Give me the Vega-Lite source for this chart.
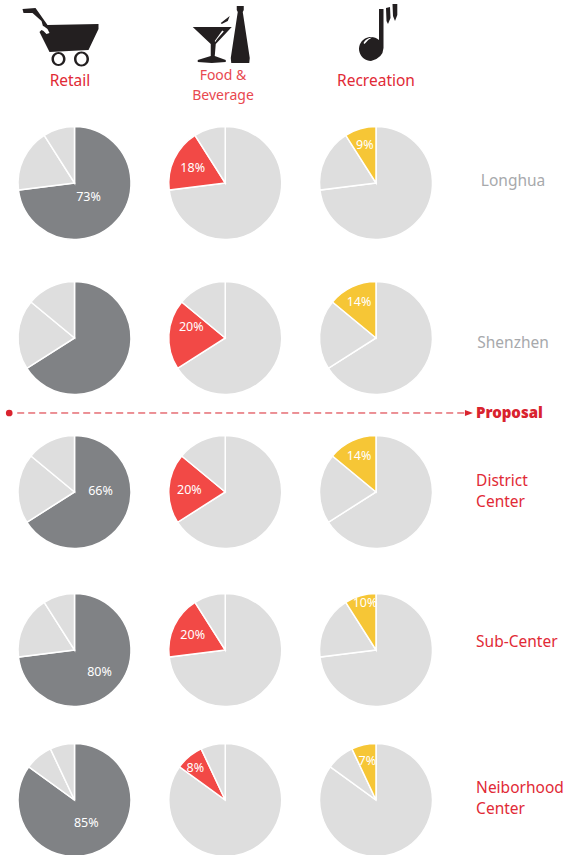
{
"$schema":"https://vega.github.io/schema/vega-lite/v6.json",
"width":572,"height":855,"padding":0,"autosize":{"type":"none"},
"background":"white",
"config":{"view":{"stroke":null},"font":"Noto Sans"},
"datasets":{
"slices":[
{"col":0,"row":0,"order":0,"share":73,"series":"Retail","label":"73%"},{"col":0,"row":0,"order":1,"share":18,"series":"Other"},{"col":0,"row":0,"order":2,"share":9,"series":"Other"},
{"col":1,"row":0,"order":0,"share":73,"series":"Other"},{"col":1,"row":0,"order":1,"share":18,"series":"Food","label":"18%"},{"col":1,"row":0,"order":2,"share":9,"series":"Other"},
{"col":2,"row":0,"order":0,"share":73,"series":"Other"},{"col":2,"row":0,"order":1,"share":18,"series":"Other"},{"col":2,"row":0,"order":2,"share":9,"series":"Recreation","label":"9%"},
{"col":0,"row":1,"order":0,"share":66,"series":"Retail"},{"col":0,"row":1,"order":1,"share":20,"series":"Other"},{"col":0,"row":1,"order":2,"share":14,"series":"Other"},
{"col":1,"row":1,"order":0,"share":66,"series":"Other"},{"col":1,"row":1,"order":1,"share":20,"series":"Food","label":"20%"},{"col":1,"row":1,"order":2,"share":14,"series":"Other"},
{"col":2,"row":1,"order":0,"share":66,"series":"Other"},{"col":2,"row":1,"order":1,"share":20,"series":"Other"},{"col":2,"row":1,"order":2,"share":14,"series":"Recreation","label":"14%"},
{"col":0,"row":2,"order":0,"share":66,"series":"Retail","label":"66%"},{"col":0,"row":2,"order":1,"share":20,"series":"Other"},{"col":0,"row":2,"order":2,"share":14,"series":"Other"},
{"col":1,"row":2,"order":0,"share":66,"series":"Other"},{"col":1,"row":2,"order":1,"share":20,"series":"Food","label":"20%"},{"col":1,"row":2,"order":2,"share":14,"series":"Other"},
{"col":2,"row":2,"order":0,"share":66,"series":"Other"},{"col":2,"row":2,"order":1,"share":20,"series":"Other"},{"col":2,"row":2,"order":2,"share":14,"series":"Recreation","label":"14%"},
{"col":0,"row":3,"order":0,"share":73,"series":"Retail","label":"80%"},{"col":0,"row":3,"order":1,"share":18,"series":"Other"},{"col":0,"row":3,"order":2,"share":9,"series":"Other"},
{"col":1,"row":3,"order":0,"share":73,"series":"Other"},{"col":1,"row":3,"order":1,"share":18,"series":"Food","label":"20%"},{"col":1,"row":3,"order":2,"share":9,"series":"Other"},
{"col":2,"row":3,"order":0,"share":73,"series":"Other"},{"col":2,"row":3,"order":1,"share":18,"series":"Other"},{"col":2,"row":3,"order":2,"share":9,"series":"Recreation","label":"10%"},
{"col":0,"row":4,"order":0,"share":85,"series":"Retail","label":"85%"},{"col":0,"row":4,"order":1,"share":8,"series":"Other"},{"col":0,"row":4,"order":2,"share":7,"series":"Other"},
{"col":1,"row":4,"order":0,"share":85,"series":"Other"},{"col":1,"row":4,"order":1,"share":8,"series":"Food","label":"8%"},{"col":1,"row":4,"order":2,"share":7,"series":"Other"},
{"col":2,"row":4,"order":0,"share":85,"series":"Other"},{"col":2,"row":4,"order":1,"share":8,"series":"Other"},{"col":2,"row":4,"order":2,"share":7,"series":"Recreation","label":"7%"}
],
"icons":[
{"col":0,"row":-1,"part":"cart","tone":"ink"},
{"col":0,"row":-1,"part":"cartGlint","tone":"paper"},
{"col":1,"row":-1,"part":"glass","tone":"ink"},
{"col":1,"row":-1,"part":"glassGlint","tone":"paper"},
{"col":2,"row":-1,"part":"note","tone":"ink"},
{"col":2,"row":-1,"part":"noteGlint","tone":"paper"}
],
"notes":[
{"text":"Retail","col":-0.03,"row":-0.66,"kind":"head","tone":"red"},
{"text":"Food &\nBeverage","col":0.985,"row":-0.69,"kind":"food","tone":"softred"},
{"text":"Recreation","col":2,"row":-0.66,"kind":"head","tone":"red"},
{"text":"Longhua","col":2.909,"row":-0.01,"kind":"head","tone":"grey"},
{"text":"Shenzhen","col":2.909,"row":1.03,"kind":"head","tone":"grey"},
{"text":"District\nCenter","col":2.664,"row":1.93,"kind":"side","tone":"red"},
{"text":"Sub-Center","col":2.664,"row":2.95,"kind":"side","tone":"red"},
{"text":"Neiborhood\nCenter","col":2.664,"row":3.92,"kind":"side","tone":"red"}
],
"proposal":[{"start":-0.38,"end":2.59,"row":1.487}]
},
"encoding":{
"x":{"field":"col","type":"quantitative","axis":null,"scale":{"domain":[0,2],"range":[74.5,376],"nice":false,"zero":false}},
"y":{"field":"row","type":"quantitative","axis":null,"scale":{"domain":[-1,0,1,2,3,4],"range":[28,183,338,492,650,800],"nice":false,"zero":false}}
},
"layer":[
{"data":{"name":"slices"},
"transform":[{"stack":"share","groupby":["col","row"],"sort":[{"field":"order","order":"ascending"}],"as":["start","end"]}],
"mark":{"type":"arc","outerRadius":56.5,"innerRadius":0,"stroke":"white","strokeWidth":1.5},
"encoding":{
"theta":{"field":"start","type":"quantitative","stack":null,"scale":{"domain":[0,100],"range":[0,6.283185]}},
"theta2":{"field":"end"},
"color":{"field":"series","type":"nominal","legend":null,"scale":{"domain":["Retail","Food","Recreation","Other","ink","paper","red","softred","grey"],"range":["#808285","#f24946","#f6c636","#dedede","#231f20","#ffffff","#e12a36","#e8484f","#a7a9ac"]}}
}},
{"data":{"name":"slices"},
"transform":[{"stack":"share","groupby":["col","row"],"sort":[{"field":"order","order":"ascending"}],"as":["start","end"]},{"filter":"datum.label && datum.col==0 && (datum.row==4)"},{"calculate":"(datum.start+datum.end)/2","as":"mid"}],
"mark":{"type":"text","radius":26,"color":"white","fontSize":12.5,"align":"center","baseline":"middle"},
"encoding":{"theta":{"field":"mid","type":"quantitative","stack":null,"scale":{"domain":[0,100],"range":[0,6.283185]}},"text":{"field":"label"}}},
{"data":{"name":"slices"},
"transform":[{"stack":"share","groupby":["col","row"],"sort":[{"field":"order","order":"ascending"}],"as":["start","end"]},{"filter":"datum.label && datum.col==1 && (datum.row==0 || datum.row==2 || datum.row==3)"},{"calculate":"(datum.start+datum.end)/2","as":"mid"}],
"mark":{"type":"text","radius":36,"color":"white","fontSize":12.5,"align":"center","baseline":"middle"},
"encoding":{"theta":{"field":"mid","type":"quantitative","stack":null,"scale":{"domain":[0,100],"range":[0,6.283185]}},"text":{"field":"label"}}},
{"data":{"name":"slices"},
"transform":[{"stack":"share","groupby":["col","row"],"sort":[{"field":"order","order":"ascending"}],"as":["start","end"]},{"filter":"datum.label && datum.col==2 && datum.row!=3"},{"calculate":"(datum.start+datum.end)/2","as":"mid"}],
"mark":{"type":"text","radius":40,"color":"white","fontSize":12.5,"align":"center","baseline":"middle"},
"encoding":{"theta":{"field":"mid","type":"quantitative","stack":null,"scale":{"domain":[0,100],"range":[0,6.283185]}},"text":{"field":"label"}}},
{"data":{"name":"slices"},"transform":[{"filter":"datum.label && datum.col==0 && datum.row==0"}],
"mark":{"type":"text","xOffset":14,"yOffset":14,"color":"white","fontSize":12.5,"align":"center","baseline":"middle"},"encoding":{"text":{"field":"label"}}},
{"data":{"name":"slices"},"transform":[{"filter":"datum.label && datum.col==0 && datum.row==2"}],
"mark":{"type":"text","xOffset":26,"yOffset":-1,"color":"white","fontSize":12.5,"align":"center","baseline":"middle"},"encoding":{"text":{"field":"label"}}},
{"data":{"name":"slices"},"transform":[{"filter":"datum.label && datum.col==0 && datum.row==3"}],
"mark":{"type":"text","xOffset":25,"yOffset":22,"color":"white","fontSize":12.5,"align":"center","baseline":"middle"},"encoding":{"text":{"field":"label"}}},
{"data":{"name":"slices"},"transform":[{"filter":"datum.label && datum.col==1 && datum.row==1"}],
"mark":{"type":"text","xOffset":-34,"yOffset":-11,"color":"white","fontSize":12.5,"align":"center","baseline":"middle"},"encoding":{"text":{"field":"label"}}},
{"data":{"name":"slices"},"transform":[{"filter":"datum.label && datum.col==1 && datum.row==4"}],
"mark":{"type":"text","xOffset":-30,"yOffset":-32,"color":"white","fontSize":12.5,"align":"center","baseline":"middle"},"encoding":{"text":{"field":"label"}}},
{"data":{"name":"slices"},"transform":[{"filter":"datum.label && datum.col==2 && datum.row==3"}],
"mark":{"type":"text","xOffset":-11,"yOffset":-47,"color":"white","fontSize":12.5,"align":"center","baseline":"middle"},"encoding":{"text":{"field":"label"}}},
{"data":{"name":"icons"},
"mark":{"type":"point","filled":true,"size":4,"opacity":1,"strokeWidth":0},
"encoding":{
"shape":{"field":"part","type":"nominal","legend":null,"scale":{"domain":["cart","cartGlint","glass","glassGlint","note","noteGlint"],"range":[
"M-52,-19 L-39,-20 L-27,-3 L24,-4 L24,1 L14,22 L-25,24 L-35,4 L-31,0 L-33,-7 L-42,-15 L-51,-15 Z M-23,31 a7,7 0 1,0 14,0 a7,7 0 1,0 -14,0 Z M-20.5,31 a4.5,5 0 1,1 9,0 a4.5,5 0 1,1 -9,0 Z M-0.5,31 a7.5,7.5 0 1,0 15,0 a7.5,7.5 0 1,0 -15,0 Z M2,31 a5,5.5 0 1,1 10,0 a5,5.5 0 1,1 -10,0 Z",
"M-35,1 L-31,-2 L-27,1 L-25,5 L-28,6 L-31,3 Z",
"M-32.5,-1 L6.5,-1 L-9.5,16 L-10.5,28 L0.5,32 L0.5,34 L-13.5,35 L-27.5,34 L-27.5,32 L-14.5,28 L-14.5,16 Z M-4.5,-5 L4.5,-12 L2.5,-7 L-3.5,-4 Z M11.5,-22 L18.5,-22 L18.5,-18 L17.5,-16 L24.5,30 L24,35 L6,35 L5.5,30 L12.5,-16 L11.5,-18 Z",
"M-3,2.5 L-1.5,3.5 L-8,11 L-10,14 L-10.5,13 Z",
"M3,-19 L7.5,-19 L7.5,20 Q7,30 -5,33 A12,12 0 1,1 3,12 Z M10,-20 L14,-21 L14.5,-10 L12,-4 L10.5,-7 Z M16.5,-24 L21.3,-24 L21.3,-13 L19,-7 L17,-12 Z",
"M-12.5,15 Q-10,10 -4,9.5 Q-9,12 -11.5,16 Z"
]}},
"color":{"field":"tone","type":"nominal","legend":null}
}},
{"data":{"name":"notes"},"transform":[{"filter":"datum.kind=='head'"}],
"mark":{"type":"text","align":"center","baseline":"middle","fontSize":15.5,"lineBreak":"\n","lineHeight":20},
"encoding":{"text":{"field":"text"},"color":{"field":"tone","type":"nominal","legend":null}}},
{"data":{"name":"notes"},"transform":[{"filter":"datum.kind=='food'"}],
"mark":{"type":"text","align":"center","baseline":"middle","fontSize":14,"lineBreak":"\n","lineHeight":20},
"encoding":{"text":{"field":"text"},"color":{"field":"tone","type":"nominal","legend":null}}},
{"data":{"name":"notes"},"transform":[{"filter":"datum.kind=='side'"}],
"mark":{"type":"text","align":"left","baseline":"middle","fontSize":15.5,"lineBreak":"\n","lineHeight":21},
"encoding":{"text":{"field":"text"},"color":{"field":"tone","type":"nominal","legend":null}}},
{"data":{"name":"proposal"},
"mark":{"type":"rule","color":"#d9232e","strokeWidth":1,"strokeDash":[7,4]},
"encoding":{"x":{"field":"start","type":"quantitative"},"x2":{"field":"end"},"y":{"field":"row","type":"quantitative"}}},
{"data":{"name":"proposal"},
"mark":{"type":"point","filled":true,"size":45,"shape":"circle","color":"#d9232e","opacity":1,"xOffset":-8},
"encoding":{"x":{"field":"start","type":"quantitative"}}},
{"data":{"name":"proposal"},
"mark":{"type":"point","filled":true,"size":4,"shape":"M-4,-3 L4,0 L-4,3 Z","color":"#d9232e","opacity":1,"xOffset":4},
"encoding":{"x":{"field":"end","type":"quantitative"}}},
{"data":{"name":"proposal"},
"mark":{"type":"text","text":"Proposal","align":"left","baseline":"middle","fontSize":15,"fontWeight":900,"color":"#d9232e","xOffset":11},
"encoding":{"x":{"field":"end","type":"quantitative"}}}
]
}
